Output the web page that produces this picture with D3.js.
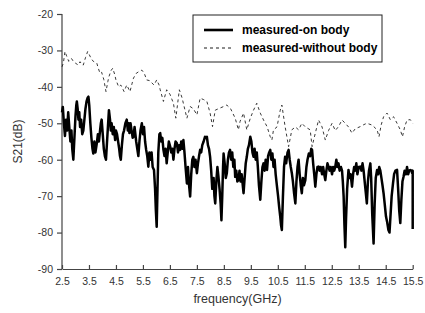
<!DOCTYPE html>
<html>
<head>
<meta charset="utf-8">
<script src="https://cdn.jsdelivr.net/npm/d3@7"></script>
<style>
  body { margin: 0; background: #fff; }
  svg { display: block; font-family: "Liberation Sans", Arial, sans-serif; }
</style>
</head>
<body>
<svg id="chart" width="425" height="313"></svg>
<script>
/////////////////////////////////////////////////////////////////////////////////////
// Data (frequency in GHz, S21 in dB)
var seriesNames = ["measured-on body", "measured-without body"];
var xTicks = [2.5, 3.5, 4.5, 5.5, 6.5, 7.5, 8.5, 9.5, 10.5, 11.5, 12.5, 13.5, 14.5, 15.5];
var yTicks = [-90, -80, -70, -60, -50, -40, -30, -20];

var onBodyFreq = [2.50,2.53,2.57,2.61,2.65,2.69,2.73,2.77,2.81,2.85,2.88,2.92,2.96,3.00,3.03,3.05,3.08,3.11,3.14,3.17,3.21,3.25,3.29,3.33,3.37,3.41,3.45,3.48,3.51,3.55,3.59,3.63,3.66,3.70,3.74,3.79,3.83,3.87,3.91,3.94,3.97,4.01,4.05,4.09,4.13,4.17,4.21,4.24,4.28,4.31,4.34,4.38,4.42,4.47,4.50,4.54,4.58,4.62,4.65,4.68,4.72,4.76,4.80,4.85,4.90,4.94,4.97,5.00,5.04,5.08,5.12,5.15,5.19,5.22,5.25,5.29,5.33,5.37,5.41,5.46,5.50,5.54,5.58,5.62,5.66,5.70,5.74,5.78,5.82,5.86,5.91,5.95,5.98,6.01,6.04,6.07,6.11,6.14,6.18,6.22,6.26,6.30,6.34,6.38,6.42,6.46,6.51,6.55,6.59,6.63,6.67,6.71,6.76,6.80,6.84,6.88,6.92,6.96,7.00,7.04,7.08,7.13,7.17,7.21,7.25,7.29,7.33,7.37,7.41,7.45,7.50,7.54,7.58,7.62,7.66,7.70,7.75,7.80,7.84,7.87,7.91,7.95,7.99,8.03,8.07,8.12,8.15,8.18,8.22,8.26,8.30,8.34,8.38,8.41,8.44,8.47,8.49,8.53,8.57,8.61,8.65,8.69,8.73,8.77,8.81,8.85,8.89,8.92,8.96,9.00,9.04,9.08,9.12,9.16,9.20,9.23,9.27,9.31,9.35,9.39,9.43,9.48,9.52,9.56,9.60,9.64,9.68,9.72,9.76,9.80,9.85,9.89,9.93,9.97,10.01,10.05,10.10,10.14,10.18,10.22,10.26,10.30,10.34,10.38,10.42,10.47,10.51,10.55,10.59,10.62,10.65,10.69,10.73,10.77,10.81,10.86,10.90,10.94,10.98,11.02,11.06,11.10,11.15,11.19,11.23,11.27,11.31,11.35,11.39,11.43,11.47,11.52,11.56,11.60,11.65,11.70,11.74,11.77,11.81,11.85,11.89,11.93,11.97,12.01,12.05,12.09,12.14,12.18,12.22,12.26,12.30,12.34,12.38,12.42,12.46,12.51,12.55,12.59,12.63,12.67,12.71,12.75,12.79,12.84,12.88,12.91,12.94,12.97,13.00,13.03,13.07,13.12,13.16,13.20,13.25,13.29,13.33,13.37,13.41,13.45,13.50,13.56,13.60,13.64,13.68,13.72,13.76,13.80,13.84,13.88,13.93,13.96,14.00,14.05,14.09,14.13,14.18,14.22,14.26,14.30,14.34,14.38,14.42,14.46,14.51,14.55,14.60,14.64,14.68,14.72,14.77,14.81,14.86,14.92,14.96,15.00,15.04,15.08,15.12,15.16,15.20,15.25,15.29,15.33,15.37,15.41,15.45,15.48,15.50,15.50];
var onBodyS21 = [-47,-45.5,-50,-53.5,-49,-52,-47,-51,-55,-52,-57,-60,-54,-48,-45,-44,-46,-49,-47,-51,-49,-53,-52,-49,-46,-44,-43,-42.7,-45,-50,-54,-57,-58.3,-55,-58,-55.5,-53,-55,-52,-50,-49,-53,-57,-59,-60,-55,-50,-46.4,-49,-52,-50,-53,-51,-54.6,-52,-53,-55,-57,-59,-60,-56,-53,-52,-50,-49,-52,-50,-52.7,-50,-52,-54,-53.7,-51,-53,-55,-57,-59,-55,-52,-50,-53,-51,-55,-57.3,-59,-61.9,-58,-60,-58,-62,-62.8,-68,-74,-78.4,-68,-58,-53,-52.7,-55,-54,-57.3,-59,-57,-61,-58,-55,-56.4,-58,-57,-60,-57,-55,-55.5,-58,-56,-57.3,-55,-57,-54.6,-58,-62,-66.5,-62,-67,-70.1,-64,-60,-59.2,-62,-60,-63.7,-61,-59,-57.3,-58,-56,-55,-53.7,-54,-53.7,-56,-57,-59.2,-63,-68,-65,-70,-72,-66,-62,-64.7,-68,-72,-76.6,-70,-62,-58.3,-61,-65,-63.7,-60,-58,-57.3,-60,-58,-62,-60,-64.7,-63,-66,-65.6,-63,-66,-64,-67,-69.2,-65,-61,-59.2,-57,-56,-53.7,-55,-58,-59.2,-57,-60,-58,-62,-67,-71,-66,-62,-61,-63,-60,-62.8,-59,-58,-57.3,-60,-58.3,-62,-60,-64,-67.4,-70,-73,-75.6,-78,-79.3,-70,-62,-59.2,-61,-58,-57.3,-60,-62,-63.7,-66,-69,-72,-66,-62,-60,-64,-67,-69.2,-65,-67,-65.6,-62,-60,-58.3,-59,-57,-57.3,-61,-64,-67.4,-64,-62,-61.9,-63,-62,-64,-62,-64,-65.6,-63,-61,-61.9,-63,-62,-64,-62,-63,-61.9,-60,-62,-61,-63,-62,-63,-66,-70.1,-78,-84,-76,-68,-62.8,-65,-64,-67.4,-64,-62,-63,-61,-64,-62,-61.9,-63,-61,-63,-66,-69,-72,-66,-63,-61,-65,-75,-83,-72,-65,-62.8,-64,-62,-63,-65,-67,-69.2,-72,-75.6,-77,-79.3,-80,-75,-70,-66.5,-64,-63,-62.8,-68,-74,-77.4,-71,-66,-64.7,-63,-64,-62,-64,-63,-62.8,-63,-63.7,-63,-79];

var noBodyFreq = [2.50,2.55,2.61,2.67,2.75,2.85,2.92,3.00,3.10,3.17,3.25,3.29,3.37,3.45,3.50,3.58,3.66,3.79,3.85,3.91,3.97,4.05,4.13,4.20,4.24,4.32,4.38,4.45,4.50,4.60,4.68,4.75,4.80,4.90,5.02,5.10,5.15,5.25,5.35,5.46,5.55,5.64,5.75,5.91,6.01,6.10,6.14,6.26,6.38,6.50,6.63,6.72,6.85,6.95,7.13,7.25,7.37,7.50,7.62,7.75,7.87,7.99,8.08,8.18,8.30,8.49,8.61,8.75,8.92,9.04,9.10,9.23,9.35,9.48,9.60,9.72,9.85,9.97,10.10,10.22,10.28,10.34,10.47,10.59,10.65,10.77,10.90,11.02,11.15,11.27,11.39,11.52,11.70,11.77,11.89,12.01,12.14,12.26,12.38,12.51,12.63,12.75,12.88,13.00,13.12,13.25,13.37,13.56,13.68,13.80,14.00,14.18,14.25,14.33,14.42,14.55,14.67,14.79,14.92,15.04,15.12,15.20,15.29,15.41,15.50];
var noBodyS21 = [-34.5,-33.5,-30.3,-31.5,-33,-32.2,-33,-33.5,-34,-33.1,-34,-34,-32,-30.3,-31,-32.2,-33,-33.5,-35,-36.3,-36,-38,-41.3,-38.5,-37.2,-35.5,-34.9,-36.5,-38.1,-40,-39.5,-40.5,-41.3,-39.5,-41.3,-39,-37.6,-36.3,-35.8,-35.4,-36.3,-38.1,-38.3,-39.5,-38.1,-39.5,-40.8,-44,-40.8,-42,-44.5,-48.6,-40.8,-43,-48.6,-45.4,-46,-47.7,-43.1,-43.5,-44,-47.2,-50.9,-46.4,-46,-45.4,-45,-46,-48.6,-51.8,-49.5,-47.2,-51.8,-48.6,-46.4,-44.5,-47.2,-49.1,-50.9,-53.7,-54.6,-51.8,-51,-46.4,-45,-50.9,-56.4,-51.8,-51,-51.8,-50,-51,-51.8,-56.4,-52.7,-49.1,-51,-54.6,-52,-50,-52,-50.9,-49.1,-50,-51,-52.7,-51.5,-50.9,-50.4,-50,-50.5,-51.8,-53.7,-50.5,-48.2,-47.2,-49,-48.2,-50,-51.8,-53.7,-51,-49.1,-49,-50];

/////////////////////////////////////////////////////////////////////////////////////
// Margins
var svg = d3.select("#chart");
var margin = {left: 62, right: 12, top: 14, bottom: 44};
var w = 425, h = 313;

var xScale = d3.scaleLinear().domain([2.5, 15.5]).range([margin.left, w - margin.right - 0.3]);
var yScale = d3.scaleLinear().domain([-90, -20]).range([h - margin.bottom, margin.top]);

var onBody = onBodyFreq.map(function(f, i) { return {f: f, v: onBodyS21[i]}; });
var noBody = noBodyFreq.map(function(f, i) { return {f: f, v: noBodyS21[i]}; });

/////////////////////////////////////////////////////////////////////////////////////
// Axes
var axisColor = "#444";

var yAxis = svg.append("g")
  .attr("transform", "translate(" + margin.left + ",0)")
  .call(d3.axisLeft(yScale).tickValues(yTicks).tickSize(5).tickPadding(4)
    .tickFormat(function(d) { return String(d); }));   // plain hyphen minus, as in the original

var xAxis = svg.append("g")
  .attr("transform", "translate(0," + (h - margin.bottom) + ")")
  .call(d3.axisBottom(xScale).tickValues(xTicks).tickSizeInner(-4).tickSizeOuter(0).tickPadding(9).tickFormat(d3.format(".1f")));

[yAxis, xAxis].forEach(function(g) {
  g.select(".domain").attr("stroke", axisColor).attr("stroke-width", 1.2);
  g.selectAll(".tick line").attr("stroke", axisColor).attr("stroke-width", 1.2);
  g.selectAll(".tick text").attr("fill", "#333").style("font-size", "10.5px").style("font-family", "Liberation Sans, Arial, sans-serif");
});
// no outer ticks on the y domain
yAxis.select(".domain").attr("d", "M0," + yScale(-90) + "V" + yScale(-20));

svg.append("text")
  .attr("transform", "translate(22," + ((margin.top + h - margin.bottom) / 2) + ") rotate(-90)")
  .attr("text-anchor", "middle")
  .attr("fill", "#333")
  .style("font-size", "12px")
  .text("S21(dB)");

svg.append("text")
  .attr("x", (margin.left + w - margin.right) / 2)
  .attr("y", 303)
  .attr("text-anchor", "middle")
  .attr("fill", "#333")
  .style("font-size", "12.5px")
  .text("frequency(GHz)");

/////////////////////////////////////////////////////////////////////////////////////
// Lines
var line = d3.line()
  .x(function(d) { return xScale(d.f); })
  .y(function(d) { return yScale(d.v); });

svg.append("path")
  .datum(noBody)
  .attr("d", line)
  .attr("fill", "none")
  .attr("stroke", "#222")
  .attr("stroke-width", 0.9)
  .attr("stroke-dasharray", "3,3");

svg.append("path")
  .datum(onBody)
  .attr("d", line)
  .attr("fill", "none")
  .attr("stroke", "#000")
  .attr("stroke-width", 2.5)
  .attr("stroke-linejoin", "round");

/////////////////////////////////////////////////////////////////////////////////////
// Legend
var legend = svg.append("g").attr("transform", "translate(193,15)");
legend.append("rect")
  .attr("width", 189).attr("height", 47)
  .attr("fill", "#fff").attr("stroke", "#222").attr("stroke-width", 1);

var styles = [{w: 2.6, dash: null}, {w: 0.9, dash: "3,3"}];
seriesNames.forEach(function(name, i) {
  var yy = 15 + i * 18;
  legend.append("line")
    .attr("x1", 11).attr("x2", 40).attr("y1", yy).attr("y2", yy)
    .attr("stroke", "#000").attr("stroke-width", styles[i].w)
    .attr("stroke-dasharray", styles[i].dash);
  legend.append("text")
    .attr("x", 49).attr("y", yy + 4)
    .attr("fill", "#000")
    .style("font-size", "12px").style("font-weight", "bold")
    .text(name);
});
</script>
</body>
</html>
